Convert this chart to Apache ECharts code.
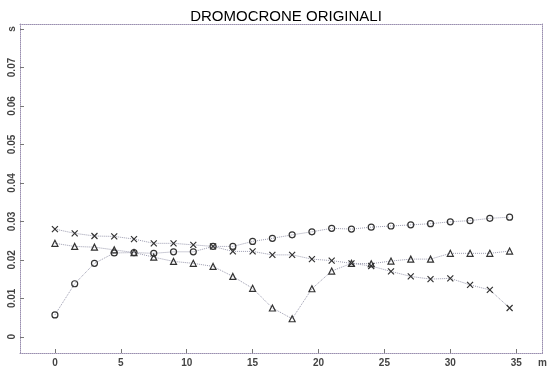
<!DOCTYPE html>
<html>
<head>
<meta charset="utf-8">
<title>Dromocrone originali</title>
<script src="https://cdn.jsdelivr.net/npm/echarts@6/dist/echarts.min.js"></script>
<style>
  html, body { margin: 0; padding: 0; background: #fff; }
  #chart { width: 550px; height: 370px; }
</style>
</head>
<body>
<div id="chart"></div>
<script>
// posizioni geofoni (m)
var geofoni = [0, 1.5, 3, 4.5, 6, 7.5, 9, 10.5, 12, 13.5, 15, 16.5,
               18, 19.5, 21, 22.5, 24, 25.5, 27, 28.5, 30, 31.5, 33, 34.5];

// tempi di arrivo (s)
var tiroDiretto = [0.0057, 0.0138, 0.0191, 0.0218, 0.0219, 0.0217, 0.0221, 0.0221,
                   0.0235, 0.0235, 0.0248, 0.0256, 0.0265, 0.0273, 0.0282, 0.0280,
                   0.0285, 0.0288, 0.0291, 0.0294, 0.0299, 0.0302, 0.0308, 0.0311];
var tiroInverso = [0.0280, 0.0269, 0.0262, 0.0261, 0.0254, 0.0243, 0.0243, 0.0239,
                   0.0235, 0.0222, 0.0222, 0.0213, 0.0213, 0.0202, 0.0198, 0.0191,
                   0.0184, 0.0170, 0.0157, 0.0150, 0.0152, 0.0135, 0.0122, 0.0075];
var tiroCentrale = [0.0243, 0.0235, 0.0233, 0.0226, 0.0219, 0.0207, 0.0196, 0.0191,
                    0.0183, 0.0157, 0.0126, 0.0075, 0.0047, 0.0125, 0.0171, 0.0191,
                    0.0190, 0.0197, 0.0202, 0.0202, 0.0217, 0.0217, 0.0217, 0.0223];

// etichette assi
var xTicks = [0, 5, 10, 15, 20, 25, 30, 35, 37];
var yTicks = [0, 0.01, 0.02, 0.03, 0.04, 0.05, 0.06, 0.07, 0.08];

var xPath = 'path://M0,0L10,10M10,0L0,10';

function punti(valori) {
	return geofoni.map(function(x, i) { return [x, valori[i]]; });
}

function serie(nome, valori, simbolo) {
	return {
		name: nome,
		type: 'line',
		data: punti(valori),
		symbol: simbolo,
		symbolSize: 6,
		showAllSymbol: true,
		lineStyle: { color: '#9c9cb0', width: 1, type: 'dotted' },
		itemStyle: { color: 'rgba(255,255,255,0)', borderColor: '#333', borderWidth: 1.2, borderType: 'solid' },
		emphasis: { disabled: true },
		animation: false
	};
}

var cornice = { show: true, onZero: false, lineStyle: { color: '#9a8fb0', width: 1, type: 'dotted' } };

var myChart = echarts.init(document.getElementById('chart'));
myChart.setOption({
	backgroundColor: '#fff',
	animation: false,
	title: {
		text: 'DROMOCRONE ORIGINALI',
		left: 281, top: 4,
		textAlign: 'center',
		textStyle: { fontFamily: 'Liberation Sans', fontSize: 15, fontWeight: 'normal', color: '#000' }
	},
	grid: { left: 20, right: 6, top: 24, bottom: 17 },
	xAxis: [{
		type: 'value', min: -2.65, max: 37,
		axisLine: cornice,
		splitLine: { show: false },
		axisTick: { show: true, inside: true, length: 4, customValues: xTicks.slice(0, 8), lineStyle: { color: '#777' } },
		axisLabel: {
			customValues: xTicks, showMinLabel: true, showMaxLabel: true,
			margin: 5, fontSize: 10, fontWeight: 'bold', color: '#444', fontFamily: 'Liberation Sans',
			formatter: function(v) { return v === 37 ? 'm' : String(v); }
		}
	}, {
		type: 'value', min: -2.65, max: 37, position: 'top',
		axisLine: cornice, axisTick: { show: false }, axisLabel: { show: false }, splitLine: { show: false }
	}],
	yAxis: [{
		type: 'value', min: -0.0042, max: 0.0813,
		axisLine: cornice,
		splitLine: { show: false },
		axisTick: { show: true, inside: true, length: 4, customValues: yTicks, lineStyle: { color: '#777' } },
		axisLabel: {
			customValues: yTicks, showMinLabel: true, showMaxLabel: true,
			rotate: 90, margin: 3, fontSize: 10, fontWeight: 'bold', color: '#444', fontFamily: 'Liberation Sans',
			formatter: function(v) { return v === 0.08 ? 's' : (v === 0 ? '0' : v.toFixed(2)); }
		}
	}, {
		type: 'value', min: -0.0042, max: 0.0813, position: 'right',
		axisLine: cornice, axisTick: { show: false }, axisLabel: { show: false }, splitLine: { show: false }
	}],
	series: [
		serie('diretto', tiroDiretto, 'circle'),
		serie('inverso', tiroInverso, xPath),
		serie('centrale', tiroCentrale, 'triangle')
	]
});
</script>
</body>
</html>
